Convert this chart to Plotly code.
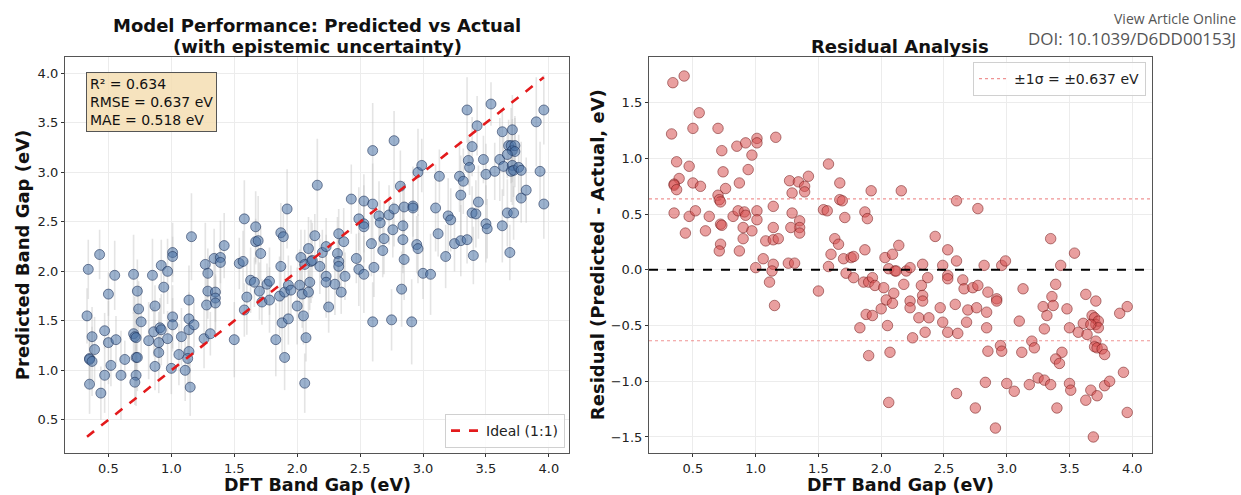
import plotly.graph_objects as go

# ---- data (DFT actual band gap, residual = predicted - actual) ----
actual = [
    0.34, 0.43, 0.55, 0.33, 0.50, 0.70, 0.37, 0.47, 0.39, 0.35,
    0.35, 0.37, 0.50, 0.56, 0.35, 0.47, 0.52, 0.44, 0.60, 0.63,
    0.73, 0.74, 0.76, 0.70, 0.71, 0.72, 0.72, 0.73, 0.72, 0.71,
    0.85, 0.92, 1.01, 1.01, 1.16, 0.97, 0.94, 0.87, 0.82, 0.86,
    0.91, 0.92, 0.90, 0.97, 0.90, 0.87, 1.01, 1.01, 1.14, 1.14,
    1.08, 1.14, 1.18, 1.06, 1.00, 1.14, 1.27, 1.29, 1.34, 1.39,
    1.39, 1.42, 1.29, 1.35, 1.35, 1.28, 1.35, 1.26, 1.31, 1.58,
    1.54, 1.57, 1.67, 1.67, 1.69, 1.71, 1.63, 1.66, 1.60, 1.70,
    1.76, 1.78, 1.58, 1.92, 1.87, 1.89, 1.87, 2.03, 2.09, 2.14,
    2.16, 2.06, 1.13, 1.11, 1.15, 1.50, 1.72, 1.78, 1.86, 1.90,
    1.93, 1.95, 2.02, 2.11, 2.10, 2.04, 2.09, 2.00, 1.88, 1.93,
    1.83, 2.05, 1.90, 2.07, 2.06, 2.60, 2.77, 2.43, 2.53, 2.60,
    2.33, 2.49, 2.12, 2.20, 2.23, 2.82, 2.96, 2.99, 3.35, 3.54,
    3.43, 2.53, 2.53, 2.37, 2.18, 2.32, 2.33, 2.33, 2.23, 2.23,
    2.65, 2.66, 2.73, 2.77, 2.85, 2.92, 2.92, 2.59, 2.47, 2.69,
    2.76, 2.84, 2.30, 2.38, 2.49, 2.68, 2.84, 2.35, 2.53, 2.61,
    2.25, 2.85, 2.95, 2.96, 3.12, 3.20, 3.22, 3.13, 3.10, 3.39,
    3.36, 3.29, 3.37, 3.32, 3.30, 3.48, 3.50, 3.44, 3.39, 3.42,
    3.57, 3.61, 3.63, 3.71, 3.64, 3.68, 3.70, 3.71, 3.73, 3.73,
    3.67, 3.71, 3.70, 3.72, 3.76, 3.78, 3.90, 3.96, 3.93, 2.83,
    3.00, 3.06, 3.18, 3.25, 3.30, 3.35, 3.50, 3.51, 3.67, 3.72,
    3.63, 3.78, 3.82, 3.40, 3.96, 2.60, 2.75, 2.91, 3.69,
]
residual = [
    1.68, 1.74, 1.41, 1.22, 1.27, 1.27, 0.97, 0.93, 0.82, 0.77,
    0.76, 0.72, 0.78, 0.75, 0.51, 0.48, 0.53, 0.33, 0.35, 0.48,
    1.07, 0.88, 0.73, 0.67, 0.63, 0.61, 0.41, 0.40, 0.23, 0.17,
    1.11, 1.14, 1.18, 1.14, 1.19, 1.03, 0.90, 0.78, 0.48, 0.53,
    0.52, 0.49, 0.38, 0.35, 0.28, 0.17, 0.53, 0.45, 0.57, 0.38,
    0.26, 0.27, 0.28, 0.10, 0.02, 0.05, 0.80, 0.69, 0.79, 0.75,
    0.70, 0.84, 0.51, 0.44, 0.38, 0.38, 0.33, 0.06, 0.06, 0.95,
    0.54, 0.53, 0.78, 0.63, 0.62, 0.47, 0.28, 0.23, 0.14, 0.10,
    0.11, 0.12, 0.03, 0.71, 0.52, 0.46, 0.18, 0.11, 0.14, 0.22,
    0.71, 0.01, -0.01, -0.11, -0.32, -0.19, -0.03, -0.07, -0.11, -0.11,
    -0.07, -0.14, -0.16, -0.01, -0.21, -0.27, -0.30, -0.35, -0.40, -0.41,
    -0.52, -0.50, -0.77, -0.74, -1.19, 0.62, 0.55, 0.30, 0.18, 0.08,
    0.05, 0.04, -0.01, -0.01, 0.02, 0.04, 0.04, 0.08, 0.28, 0.15,
    0.04, -0.05, -0.08, -0.07, -0.13, -0.14, -0.23, -0.28, -0.28, -0.34,
    -0.09, -0.17, -0.16, -0.14, -0.20, -0.26, -0.28, -0.31, -0.34, -0.36,
    -0.34, -0.38, -0.43, -0.43, -0.47, -0.47, -0.52, -0.56, -0.56, -0.57,
    -0.61, -0.73, -0.68, -0.73, -0.74, -0.64, -0.70, -0.17, -0.46, -0.13,
    -0.24, -0.33, -0.32, -0.41, -0.53, -0.35, -0.52, -0.74, -0.80, -0.84,
    -0.56, -0.48, -0.22, -0.28, -0.58, -0.41, -0.43, -0.49, -0.46, -0.52,
    -0.49, -0.64, -0.69, -0.70, -0.71, -0.76, -0.39, -0.33, -0.92, -1.01,
    -1.02, -1.09, -1.03, -0.97, -0.99, -1.03, -1.02, -1.08, -1.08, -1.13,
    -1.17, -1.04, -1.00, -1.24, -1.28, -1.11, -1.24, -1.42, -1.50,
]
# epistemic uncertainty (1 std), estimated from error-bar lengths
uncert = [
    0.30, 0.25, 0.35, 0.28, 0.22, 0.40, 0.30, 0.18, 0.33, 0.26,
    0.20, 0.35, 0.42, 0.24, 0.30, 0.38, 0.21, 0.27, 0.45, 0.19,
    0.32, 0.28, 0.36, 0.22, 0.40, 0.29, 0.25, 0.34, 0.31, 0.23,
    0.37, 0.26, 0.30, 0.20, 0.44, 0.33, 0.27, 0.21, 0.39, 0.25,
    0.30, 0.36, 0.22, 0.28, 0.41, 0.24, 0.32, 0.27, 0.35, 0.20,
    0.29, 0.38, 0.23, 0.31, 0.26, 0.34, 0.42, 0.25, 0.30, 0.37,
    0.21, 0.33, 0.28, 0.40, 0.24, 0.35, 0.27, 0.30, 0.22, 0.39,
    0.26, 0.31, 0.36, 0.23, 0.45, 0.28, 0.33, 0.25, 0.38, 0.29,
    0.21, 0.34, 0.27, 0.40, 0.30, 0.24, 0.36, 0.28, 0.32, 0.22,
    0.47, 0.35, 0.26, 0.31, 0.29, 0.38, 0.23, 0.33, 0.40, 0.27,
    0.30, 0.25, 0.36, 0.42, 0.28, 0.34, 0.22, 0.39, 0.31, 0.26,
    0.37, 0.29, 0.33, 0.24, 0.30, 0.48, 0.30, 0.35, 0.27, 0.41,
    0.25, 0.32, 0.38, 0.23, 0.29, 0.36, 0.44, 0.27, 0.33, 0.22,
    0.30, 0.39, 0.26, 0.34, 0.28, 0.37, 0.24, 0.31, 0.42, 0.27,
    0.35, 0.23, 0.30, 0.38, 0.26, 0.40, 0.29, 0.33, 0.25, 0.36,
    0.28, 0.43, 0.31, 0.24, 0.37, 0.27, 0.34, 0.22, 0.39, 0.30,
    0.26, 0.41, 0.29, 0.35, 0.23, 0.38, 0.32, 0.27, 0.44, 0.30,
    0.25, 0.36, 0.28, 0.33, 0.40, 0.24, 0.31, 0.37, 0.27, 0.34,
    0.29, 0.42, 0.23, 0.35, 0.30, 0.26, 0.38, 0.32, 0.28, 0.36,
    0.24, 0.40, 0.31, 0.27, 0.33, 0.29, 0.45, 0.35, 0.30, 0.38,
    0.26, 0.41, 0.32, 0.28, 0.36, 0.24, 0.39, 0.30, 0.34, 0.27,
    0.37, 0.25, 0.33, 0.29, 0.35, 0.40, 0.31, 0.43, 0.28,
]
predicted = [a + r for a, r in zip(actual, residual)]

stats_lines = ["R² = 0.634", "RMSE = 0.637 eV", "MAE = 0.518 eV"]
sigma = 0.637
ticks_x = [0.5, 1.0, 1.5, 2.0, 2.5, 3.0, 3.5, 4.0]
ticks_y_left = [0.5, 1.0, 1.5, 2.0, 2.5, 3.0, 3.5, 4.0]
ticks_y_right = [-1.5, -1.0, -0.5, 0.0, 0.5, 1.0, 1.5]

FONT = "DejaVu Sans"
W, H = 1241, 495

fig = go.Figure()

# Left: predicted vs actual with error bars
fig.add_trace(go.Scatter(
    x=actual, y=predicted, mode="markers",
    error_y=dict(type="data", array=uncert, visible=True,
                 color="rgba(195,195,195,0.45)", thickness=1.6, width=0),
    marker=dict(size=10, color="rgba(75,115,165,0.55)",
                line=dict(color="rgba(25,45,85,0.7)", width=0.8)),
    showlegend=False, xaxis="x", yaxis="y",
))
amin, amax = min(actual), max(actual)
fig.add_trace(go.Scatter(
    x=[amin, amax], y=[amin, amax], mode="lines",
    line=dict(color="#e31a1c", width=2.6, dash="dash"),
    name="Ideal (1:1)", legend="legend", xaxis="x", yaxis="y",
))

# Right: residuals
fig.add_trace(go.Scatter(
    x=actual, y=residual, mode="markers",
    marker=dict(size=10.5, color="rgba(215,80,80,0.55)",
                line=dict(color="rgba(110,20,20,0.65)", width=0.8)),
    showlegend=False, xaxis="x2", yaxis="y2",
))
xr = [0.15, 4.155]
fig.add_trace(go.Scatter(
    x=xr, y=[0, 0], mode="lines", line=dict(color="black", width=2, dash="dash"),
    showlegend=False, xaxis="x2", yaxis="y2",
))
fig.add_trace(go.Scatter(
    x=xr, y=[sigma, sigma], mode="lines",
    line=dict(color="rgba(235,120,120,0.8)", width=1.1, dash="dot"),
    name=f"±1σ = ±{sigma:.3f} eV", legend="legend2", xaxis="x2", yaxis="y2",
))
fig.add_trace(go.Scatter(
    x=xr, y=[-sigma, -sigma], mode="lines",
    line=dict(color="rgba(235,120,120,0.8)", width=1.1, dash="dot"),
    showlegend=False, xaxis="x2", yaxis="y2",
))

def px_x(p):
    return p / W

def px_y(p):
    return 1 - p / H

L1, R1 = 65.0, 569.0
L2, R2 = 649.0, 1151.7
T, B = 57.3, 453.0

axis_common = dict(
    showline=True, mirror=True, linecolor="#555", linewidth=1.2,
    ticks="outside", ticklen=3, tickwidth=1, tickcolor="#333",
    showgrid=True, gridcolor="#ececec", gridwidth=1, zeroline=False,
    tickfont=dict(family=FONT, size=13, color="#222"), tickformat=".1f",
)

fig.update_layout(
    width=W, height=H, margin=dict(l=0, r=0, t=0, b=0),
    paper_bgcolor="white", plot_bgcolor="white",
    font=dict(family=FONT, color="#111"),
    xaxis=dict(domain=[px_x(L1), px_x(R1)], range=[0.155, 4.16],
               tickvals=ticks_x, anchor="y", **axis_common),
    yaxis=dict(domain=[px_y(B), px_y(T)], range=[0.165, 4.162],
               tickvals=ticks_y_left, anchor="x", **axis_common),
    xaxis2=dict(domain=[px_x(L2), px_x(R2)], range=[0.15, 4.155],
                tickvals=ticks_x, anchor="y2", **axis_common),
    yaxis2=dict(domain=[px_y(B), px_y(T)], range=[-1.644, 1.908],
                tickvals=ticks_y_right, anchor="x2", **axis_common),
    legend=dict(x=px_x(565), y=px_y(448), xanchor="right", yanchor="bottom",
                bgcolor="rgba(255,255,255,0.85)", bordercolor="#d0d0d0", borderwidth=1,
                font=dict(family=FONT, size=14, color="#222")),
    legend2=dict(x=px_x(1146), y=px_y(62), xanchor="right", yanchor="top",
                 bgcolor="rgba(255,255,255,0.85)", bordercolor="#d0d0d0", borderwidth=1,
                 font=dict(family=FONT, size=14, color="#222")),
)

ann = []
# Titles
ann.append(dict(text="<b>Model Performance: Predicted vs Actual</b>",
                x=px_x((L1 + R1) / 2), y=px_y(25.7), xref="paper", yref="paper",
                xanchor="center", yanchor="middle", showarrow=False,
                font=dict(family=FONT, size=18, color="#111")))
ann.append(dict(text="<b>(with epistemic uncertainty)</b>",
                x=px_x((L1 + R1) / 2), y=px_y(46.7), xref="paper", yref="paper",
                xanchor="center", yanchor="middle", showarrow=False,
                font=dict(family=FONT, size=18, color="#111")))
ann.append(dict(text="<b>Residual Analysis</b>",
                x=px_x((L2 + R2) / 2), y=px_y(46.7), xref="paper", yref="paper",
                xanchor="center", yanchor="middle", showarrow=False,
                font=dict(family=FONT, size=18, color="#111")))
# Axis titles
for cx in [(L1 + R1) / 2, (L2 + R2) / 2]:
    ann.append(dict(text="<b>DFT Band Gap (eV)</b>", x=px_x(cx), y=px_y(485.3),
                    xref="paper", yref="paper", xanchor="center", yanchor="middle",
                    showarrow=False, font=dict(family=FONT, size=17.5, color="#111")))
ann.append(dict(text="<b>Predicted Band Gap (eV)</b>", x=px_x(22), y=px_y((T + B) / 2),
                xref="paper", yref="paper", xanchor="center", yanchor="middle",
                textangle=-90, showarrow=False, font=dict(family=FONT, size=18, color="#111")))
ann.append(dict(text="<b>Residual (Predicted - Actual, eV)</b>", x=px_x(597), y=px_y((T + B) / 2),
                xref="paper", yref="paper", xanchor="center", yanchor="middle",
                textangle=-90, showarrow=False, font=dict(family=FONT, size=18, color="#111")))
# Stats box
ann.append(dict(text="<br>".join(stats_lines), x=px_x(86), y=px_y(72),
                xref="paper", yref="paper", xanchor="left", yanchor="top", align="left",
                showarrow=False, bgcolor="rgba(245,222,179,0.85)", bordercolor="#555",
                borderwidth=1, borderpad=3,
                font=dict(family=FONT, size=14, color="#111")))
# Publisher watermark
ann.append(dict(text="View Article Online", x=px_x(1238), y=px_y(18), xref="paper", yref="paper",
                xanchor="right", yanchor="middle", showarrow=False,
                font=dict(family="Open Sans", size=14, color="#555")))
ann.append(dict(text="DOI: 10.1039/D6DD00153J", x=px_x(1238), y=px_y(38), xref="paper", yref="paper",
                xanchor="right", yanchor="middle", showarrow=False,
                font=dict(family="Open Sans", size=17, color="#555")))
fig.update_layout(annotations=ann)

fig.write_html("out.html", config={"displayModeBar": False},
               post_script="document.body.style.margin='0';document.body.style.overflow='hidden';")
